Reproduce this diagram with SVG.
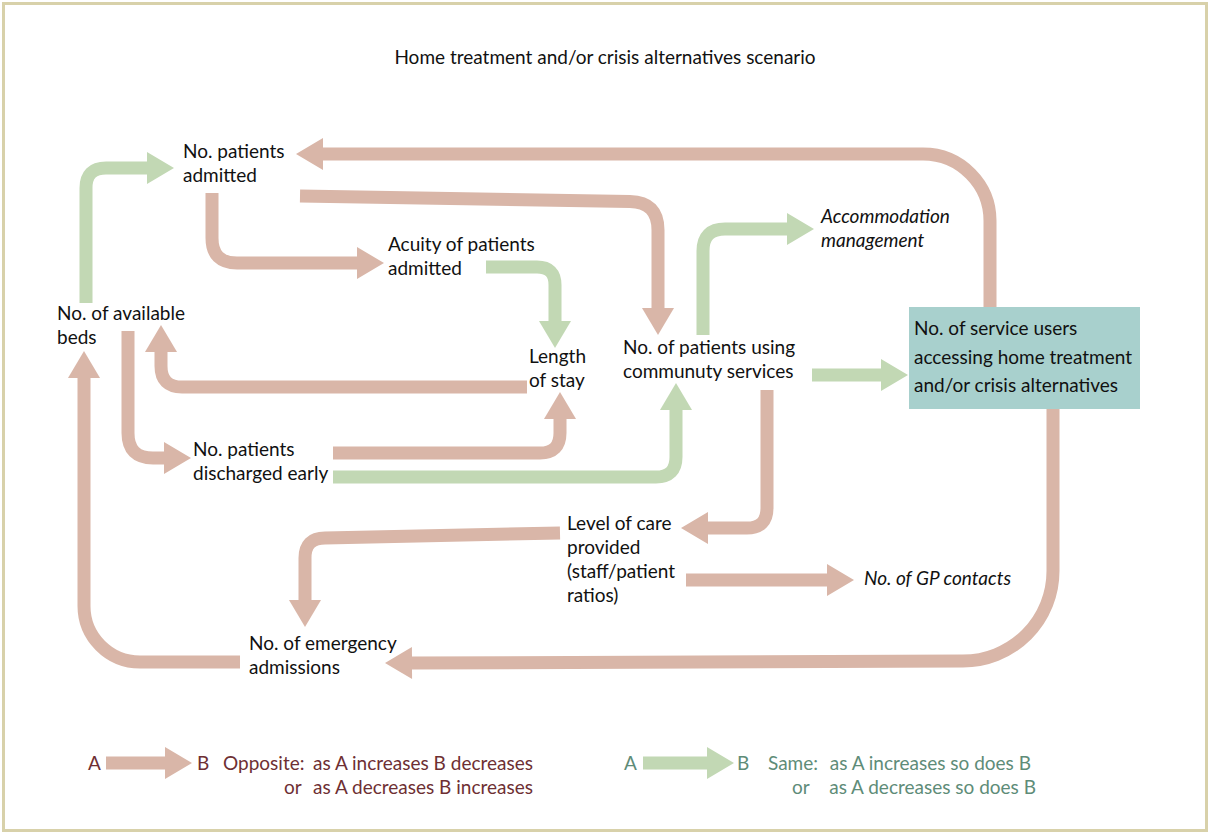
<svg xmlns="http://www.w3.org/2000/svg" width="1210" height="834" viewBox="0 0 1210 834">
<style>
text{font-family:Lato,"Open Sans","Liberation Sans",sans-serif;font-size:19px;fill:#111}
.it{font-style:italic}
.pk{fill:none;stroke:#d9b6a8;stroke-width:13}
.gr{fill:none;stroke:#c2d8b4;stroke-width:13}
.lo{fill:#6e2f33}
.lg{fill:#5e8c78}
</style>
<defs>
<marker id="ap" markerUnits="userSpaceOnUse" markerWidth="27" markerHeight="32" refX="0" refY="16" orient="auto" overflow="visible"><path d="M0,0 L27,16 L0,32 z" fill="#d9b6a8"/></marker>
<marker id="ag" markerUnits="userSpaceOnUse" markerWidth="27" markerHeight="32" refX="0" refY="16" orient="auto" overflow="visible"><path d="M0,0 L27,16 L0,32 z" fill="#c2d8b4"/></marker>
</defs>
<rect x="0" y="0" width="1210" height="834" fill="#fff"/>
<rect x="3.5" y="3.5" width="1203" height="827" fill="none" stroke="#d8d1aa" stroke-width="3"/>
<text x="605" y="64" text-anchor="middle">Home treatment and/or crisis alternatives scenario</text>
<g id="connectors">
<path class="gr" d="M86,303 V188 Q86,168 106,168 H147" marker-end="url(#ag)"/>
<path class="pk" d="M990,307 V222 A67,67 0 0 0 923,154 H323" marker-end="url(#ap)"/>
<path class="pk" d="M300,196 L630,201.5 Q658,202 658,230 V308" marker-end="url(#ap)"/>
<path class="pk" d="M212,193 V238 Q212,263 237,263 H357" marker-end="url(#ap)"/>
<path class="gr" d="M486,267 H537 Q555,267 555,285 V321" marker-end="url(#ag)"/>
<path class="pk" d="M527,387 H182 Q161,387 161,366 V352" marker-end="url(#ap)"/>
<path class="pk" d="M128,331 V433 Q128,458 153,458 H164" marker-end="url(#ap)"/>
<path class="pk" d="M333,453 H540 Q560,453 560,433 V419" marker-end="url(#ap)"/>
<path class="gr" d="M333,477 H656 Q676,477 676,457 V410" marker-end="url(#ag)"/>
<path class="gr" d="M703,335 V251 Q703,229 725,229 H787" marker-end="url(#ag)"/>
<path class="gr" d="M812,375 H881" marker-end="url(#ag)"/>
<path class="pk" d="M767,390 V508 Q767,528 747,528 H708" marker-end="url(#ap)"/>
<path class="pk" d="M686,580 H827" marker-end="url(#ap)"/>
<path class="pk" d="M560,533 L325,538 Q305,538 305,558 V600" marker-end="url(#ap)"/>
<path class="pk" d="M1053,409 V571 A90,90 0 0 1 963,661 L412,663" marker-end="url(#ap)"/>
<path class="pk" d="M240,662 H140 A56,56 0 0 1 84,606 V378" marker-end="url(#ap)"/>
</g>
<g id="n-admitted"><text x="183" y="158">No. patients</text><text x="183" y="182">admitted</text></g>
<g id="n-acuity"><text x="388" y="251">Acuity of patients</text><text x="388" y="275">admitted</text></g>
<g id="n-beds"><text x="57" y="320">No. of available</text><text x="57" y="344">beds</text></g>
<g id="n-length"><text x="529" y="363">Length</text><text x="529" y="387">of stay</text></g>
<g id="n-community"><text x="623" y="354">No. of patients using</text><text x="623" y="378">communuty services</text></g>
<g id="n-accommodation"><text class="it" x="821" y="223">Accommodation</text><text class="it" x="821" y="247">management</text></g>
<g id="n-home"><rect x="909" y="307" width="231" height="102" fill="#a8d0cd"/><text x="914" y="335">No. of service users</text><text x="914" y="364">accessing home treatment</text><text x="914" y="392">and/or crisis alternatives</text></g>
<g id="n-discharged"><text x="193" y="456">No. patients</text><text x="193" y="480">discharged early</text></g>
<g id="n-level"><text x="567" y="530">Level of care</text><text x="567" y="554">provided</text><text x="567" y="578">(staff/patient</text><text x="567" y="602">ratios)</text></g>
<g id="n-gp"><text class="it" x="864" y="585">No. of GP contacts</text></g>
<g id="n-emergency"><text x="249" y="650">No. of emergency</text><text x="249" y="674">admissions</text></g>
<g id="legend">
<text class="lo" x="88" y="770">A</text>
<path class="pk" d="M106,763 H165" marker-end="url(#ap)"/>
<text class="lo" x="197" y="770">B</text>
<text class="lo" x="223" y="770">Opposite:</text>
<text class="lo" x="533" y="770" text-anchor="end">as A increases B decreases</text>
<text class="lo" x="284" y="794">or</text>
<text class="lo" x="533" y="794" text-anchor="end">as A decreases B increases</text>
<text class="lg" x="624" y="770">A</text>
<path class="gr" d="M643,763 H707" marker-end="url(#ag)"/>
<text class="lg" x="737" y="770">B</text>
<text class="lg" x="768" y="770">Same:</text>
<text class="lg" x="1031" y="770" text-anchor="end">as A increases so does B</text>
<text class="lg" x="792" y="794">or</text>
<text class="lg" x="1036" y="794" text-anchor="end">as A decreases so does B</text>
</g>
</svg>
